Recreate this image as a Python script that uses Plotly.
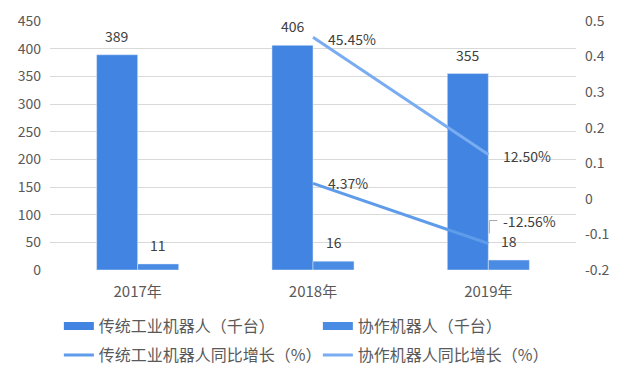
import plotly.graph_objects as go

# ---- data ----
years = ["2017年", "2018年", "2019年"]
trad_units = [389, 406, 355]          # 传统工业机器人（千台）
collab_units = [11, 16, 18]           # 协作机器人（千台）
growth_years = ["2018年", "2019年"]
trad_growth = [0.0437, -0.1256]       # 传统工业机器人同比增长
collab_growth = [0.4545, 0.1250]      # 协作机器人同比增长
trad_growth_labels = ["4.37%", "-12.56%"]
collab_growth_labels = ["45.45%", "12.50%"]
left_ticks = [0, 50, 100, 150, 200, 250, 300, 350, 400, 450]
right_ticks = [-0.2, -0.1, 0, 0.1, 0.2, 0.3, 0.4, 0.5]
right_tick_text = ["-0.2", "-0.1", "0", "0.1", "0.2", "0.3", "0.4", "0.5"]

names = ["传统工业机器人（千台）", "协作机器人（千台）",
         "传统工业机器人同比增长（%）", "协作机器人同比增长（%）"]

C_TRAD = "#4184E1"
C_COLL = "#4A8BE4"
C_LT = "#5E9CEA"
C_LC = "#79ACF0"
FONT = "Noto Sans CJK SC"
TXT = "#404040"
TICK = "#595959"

fig = go.Figure()
fig.add_bar(x=years, y=trad_units, name=names[0], marker_color=C_TRAD,
            showlegend=False, offsetgroup="a")
fig.add_bar(x=years, y=collab_units, name=names[1], marker_color=C_COLL,
            showlegend=False, offsetgroup="b")
fig.add_scatter(x=growth_years, y=trad_growth, yaxis="y2", mode="lines",
                line=dict(color=C_LT, width=3), showlegend=False)
fig.add_scatter(x=growth_years, y=collab_growth, yaxis="y2", mode="lines",
                line=dict(color=C_LC, width=3), showlegend=False)

# legend-only entries
fig.add_scatter(x=[None], y=[None], mode="lines", name=names[0],
                line=dict(color=C_TRAD, width=8), legend="legend")
fig.add_scatter(x=[None], y=[None], mode="lines", name=names[1],
                line=dict(color=C_COLL, width=8), legend="legend")
fig.add_scatter(x=[None], y=[None], mode="lines", name=names[2],
                line=dict(color=C_LT, width=3), legend="legend2")
fig.add_scatter(x=[None], y=[None], mode="lines", name=names[3],
                line=dict(color=C_LC, width=3), legend="legend2")

ann = []
for yr, v in zip(years, trad_units):
    ann.append(dict(x=yr, y=v, xref="x", yref="y", text=str(v), showarrow=False,
                    yanchor="bottom", xshift=-20.5, yshift=7,
                    font=dict(size=14, color=TXT, family=FONT)))
for yr, v in zip(years, collab_units):
    ann.append(dict(x=yr, y=v, xref="x", yref="y", text=str(v), showarrow=False,
                    yanchor="bottom", xshift=20.5, yshift=7,
                    font=dict(size=14, color=TXT, family=FONT)))
for yr, v, t in zip(growth_years, collab_growth, collab_growth_labels):
    ann.append(dict(x=yr, y=v, xref="x", yref="y2", text=t, showarrow=False,
                    xanchor="left", xshift=13, yshift=-2,
                    font=dict(size=14, color=TXT, family=FONT)))
for i, (yr, v, t) in enumerate(zip(growth_years, trad_growth, trad_growth_labels)):
    ys = 23 if v < -0.1 else 0
    ann.append(dict(x=yr, y=v, xref="x", yref="y2", text=t, showarrow=False,
                    xanchor="left", xshift=13, yshift=ys,
                    font=dict(size=14, color=TXT, family=FONT)))

shapes = [dict(type="path", xref="x", yref="y2", xsizemode="pixel", ysizemode="pixel",
               xanchor=growth_years[1], yanchor=trad_growth[1],
               path="M 1 10 L 1 23 L 9 23",
               line=dict(color="#A6A6A6", width=1))]

leg_common = dict(orientation="h", xref="container", yref="container",
                  xanchor="left", yanchor="middle",
                  entrywidth=214, entrywidthmode="pixels",
                  font=dict(size=16, color=TICK, family=FONT),
                  bgcolor="rgba(0,0,0,0)")

fig.update_layout(
    width=633, height=371,
    margin=dict(l=50, r=57, t=21, b=101, autoexpand=False),
    paper_bgcolor="white", plot_bgcolor="white",
    barmode="group", bargap=0.532, bargroupgap=0,
    font=dict(family=FONT, color=TICK, size=14),
    xaxis=dict(showgrid=False, showline=False, ticks="", ticklabelstandoff=11,
               tickfont=dict(size=15, color=TICK)),
    yaxis=dict(range=[0, 450], tickvals=left_ticks, showgrid=True,
               gridcolor="#D9D9D9", gridwidth=1, zeroline=False,
               showline=False, ticks="", ticklabelstandoff=8,
               tickfont=dict(size=14, color=TICK)),
    yaxis2=dict(range=[-0.2, 0.5], overlaying="y", side="right",
                tickvals=right_ticks, ticktext=right_tick_text,
                showgrid=False, zeroline=False, showline=False, ticks="",
                ticklabelstandoff=8, tickfont=dict(size=14, color=TICK)),
    legend=dict(x=0.093, y=1 - 326 / 371, **leg_common),
    legend2=dict(x=0.093, y=1 - 355 / 371, **leg_common),
    annotations=ann,
    shapes=shapes,
)

fig.write_html("out.html", config={"displayModeBar": False},
               post_script="document.body.style.margin='0';document.body.style.overflow='hidden';")
